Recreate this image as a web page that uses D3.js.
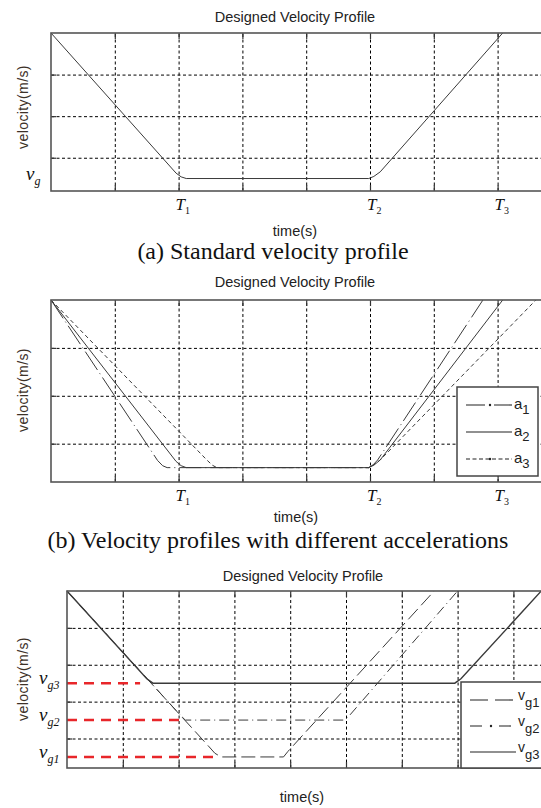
<!DOCTYPE html>
<html>
<head>
<meta charset="utf-8">
<script src="https://cdn.jsdelivr.net/npm/d3@7"></script>
<style>
  body { margin: 0; background: #fff; }
  svg { display: block; }
</style>
</head>
<body>
<script>
// panel (a) standard profile
const tA = [0, 1.96, 2.04, 2.12, 4.98, 5.06, 5.16, 7.08];
const vA = [4, 0.63, 0.54, 0.5, 0.5, 0.55, 0.66, 4];

// panel (b) different accelerations
const tB1 = [0, 1.67, 1.75, 1.82, 4.98, 5.05, 5.12, 6.77];
const vB1 = [4, 0.65, 0.54, 0.5, 0.5, 0.56, 0.66, 4];
const tB2 = [0, 1.96, 2.04, 2.12, 4.98, 5.06, 5.16, 7.08];
const vB2 = [4, 0.63, 0.54, 0.5, 0.5, 0.55, 0.66, 4];
const tB3 = [0, 2.45, 2.53, 2.6, 4.98, 5.06, 5.16, 7.6];
const vB3 = [4, 0.65, 0.55, 0.5, 0.5, 0.56, 0.66, 4];

// panel (c) different goal velocities
const tC1 = [0, 2.55, 2.65, 2.76, 3.88, 3.96, 6.58];
const vC1 = [5, 0.77, 0.6, 0.5, 0.5, 0.65, 5];
const tC2 = [0, 2.04, 2.12, 4.98, 5.06, 7.0];
const vC2 = [5, 1.62, 1.5, 1.5, 1.62, 5];
const tC3 = [0, 1.43, 1.54, 6.95, 7.06, 8.5];
const vC3 = [5, 2.62, 2.5, 2.5, 2.62, 5];

// red reference levels in (c)
const goalLevels = [0.5, 1.5, 2.5];
const goalEnds = [2.62, 2.03, 1.31];
const goalNames = ["g1", "g2", "g3"];

// time ticks
const timeTickVals = [2, 5, 7];
const timeTickNames = ["1", "2", "3"];

const legendB = ["1", "2", "3"];
const legendC = ["g1", "g2", "g3"];

const sans = "'Liberation Sans', Arial, sans-serif";
const serif = "'Liberation Serif', 'Times New Roman', serif";
const lineCol = "#3a3a3a";

const svg = d3.select("body").append("svg")
  .attr("width", 541).attr("height", 808);

function drawPanel(p) {
  const g = svg.append("g");
  const x = d3.scaleLinear().domain([0, p.xMax]).range([p.left, p.left + p.xMax * p.unitX]);
  const y = d3.scaleLinear().domain([0.2, p.yMax]).range([p.bottom, p.top]);
  const xt = d3.range(1, p.xMax);
  const yt = d3.range(1, p.yMax);
  const h = p.bottom - p.top;
  const w = p.xMax * p.unitX;

  // dotted grid
  g.append("g").attr("transform", `translate(0,${p.bottom})`)
    .call(d3.axisBottom(x).tickValues(xt).tickSize(-h).tickFormat(""))
    .call(a => a.select(".domain").remove())
    .selectAll("line").attr("stroke", "#000").attr("stroke-dasharray", "3,2.5");
  g.append("g").attr("transform", `translate(${p.left},0)`)
    .call(d3.axisLeft(y).tickValues(yt).tickSize(-w).tickFormat(""))
    .call(a => a.select(".domain").remove())
    .selectAll("line").attr("stroke", "#000").attr("stroke-dasharray", "3,2.5");

  // inner ticks
  g.append("g").attr("transform", `translate(0,${p.bottom})`)
    .call(d3.axisBottom(x).tickValues(xt).tickSize(-6).tickFormat(""))
    .call(a => a.select(".domain").remove())
    .selectAll("line").attr("stroke", "#333").attr("stroke-width", 1.2);
  g.append("g").attr("transform", `translate(0,${p.top})`)
    .call(d3.axisTop(x).tickValues(xt).tickSize(-6).tickFormat(""))
    .call(a => a.select(".domain").remove())
    .selectAll("line").attr("stroke", "#333").attr("stroke-width", 1.2);
  g.append("g").attr("transform", `translate(${p.left},0)`)
    .call(d3.axisLeft(y).tickValues(yt).tickSize(-5).tickFormat(""))
    .call(a => a.select(".domain").remove())
    .selectAll("line").attr("stroke", "#333").attr("stroke-width", 1.2);

  // red goal lines
  (p.refs || []).forEach(r => {
    g.append("line")
      .attr("x1", x(0)).attr("x2", x(r.end))
      .attr("y1", y(r.v)).attr("y2", y(r.v))
      .attr("stroke", "#e8262a").attr("stroke-width", 2.6)
      .attr("stroke-dasharray", "10,7");
  });

  // profile lines
  const line = d3.line().x(d => x(d[0])).y(d => y(d[1]));
  p.series.forEach(s => {
    g.append("path")
      .attr("d", line(d3.zip(s.t, s.v)))
      .attr("fill", "none")
      .attr("stroke", lineCol)
      .attr("stroke-width", s.width || 1)
      .attr("stroke-dasharray", s.dash);
  });

  // frame
  g.append("rect")
    .attr("x", p.left).attr("y", p.top).attr("width", w).attr("height", h)
    .attr("fill", "none").attr("stroke", "#555").attr("stroke-width", 1.6);

  // title
  g.append("text").attr("x", p.titleX).attr("y", p.titleY)
    .attr("text-anchor", "middle").attr("font-family", sans)
    .attr("font-size", 14.5).attr("fill", "#222").text("Designed Velocity Profile");

  // y label
  g.append("text")
    .attr("transform", `translate(28,${p.yLabelY}) rotate(-90)`)
    .attr("text-anchor", "middle").attr("font-family", sans)
    .attr("font-size", 14).attr("letter-spacing", 0.4)
    .attr("fill", "#3d3128").text("velocity(m/s)");

  // x label
  g.append("text").attr("x", p.xLabelX).attr("y", p.xLabelY)
    .attr("text-anchor", "middle").attr("font-family", sans)
    .attr("font-size", 14.5).attr("fill", "#222").text("time(s)");

  // T ticks
  if (p.tLabels) {
    timeTickVals.forEach((tv, i) => {
      const t = g.append("text").attr("x", x(tv) - 3).attr("y", p.bottom + 19)
        .attr("font-family", serif).attr("font-style", "italic")
        .attr("font-size", 17).attr("fill", "#111");
      t.append("tspan").text("T");
      t.append("tspan").attr("dy", 4).attr("font-size", 10).attr("font-style", "normal")
        .text(timeTickNames[i]);
    });
  }

  // v_g labels
  (p.vLabels || []).forEach(l => {
    const t = g.append("text").attr("x", l.x).attr("y", y(l.v) + 1)
      .attr("font-family", serif).attr("font-style", "italic")
      .attr("font-size", 19).attr("fill", "#111");
    t.append("tspan").text("v");
    t.append("tspan").attr("dy", 5).attr("font-size", 12).text(l.sub);
  });

  // legend
  if (p.legend) {
    const L = p.legend;
    g.append("rect").attr("x", L.x).attr("y", L.y).attr("width", L.w).attr("height", L.h)
      .attr("fill", "#fff").attr("stroke", "#444").attr("stroke-width", 1.5);
    L.items.forEach((it, i) => {
      const yy = L.rows[i];
      g.append("line").attr("x1", L.x + 9).attr("x2", L.x + 55)
        .attr("y1", yy).attr("y2", yy)
        .attr("stroke", "#222").attr("stroke-width", 1.1)
        .attr("stroke-dasharray", it.dash);
      if (it.dot) {
        g.append("circle").attr("cx", L.x + it.dot).attr("cy", yy).attr("r", 1.2).attr("fill", "#222");
      }
      const t = g.append("text").attr("x", L.x + 57).attr("y", yy + L.dyMain)
        .attr("font-family", sans).attr("font-size", L.fs).attr("fill", "#222");
      t.append("tspan").text(L.main);
      t.append("tspan").attr("dy", L.dySub).attr("font-size", 13).text(it.label);
    });
  }
}

// (a)
drawPanel({
  left: 51, top: 33, bottom: 191, unitX: 63.8, xMax: 8, yMax: 4,
  titleX: 295, titleY: 21.5, yLabelY: 107, xLabelX: 295, xLabelY: 236, tLabels: true,
  series: [{ t: tA, v: vA }],
  vLabels: [{ x: 26, v: 0.5, sub: "g" }]
});

// (b)
drawPanel({
  left: 51, top: 300, bottom: 482, unitX: 63.8, xMax: 8, yMax: 4,
  titleX: 295, titleY: 287, yLabelY: 390, xLabelX: 296, xLabelY: 522, tLabels: true,
  series: [
    { t: tB1, v: vB1, dash: "22,4,1,4" },
    { t: tB2, v: vB2 },
    { t: tB3, v: vB3, dash: "4,3" }
  ],
  legend: {
    x: 457, y: 387, w: 81, h: 89, rows: [405, 432, 459], main: "a", fs: 15,
    dyMain: 4, dySub: 5,
    items: [
      { label: legendB[0], dash: "19,4,1,4" , dot: 33 },
      { label: legendB[1] },
      { label: legendB[2], dash: "4,2.5", dot: 33 }
    ]
  }
});

// (c)
drawPanel({
  left: 67, top: 591, bottom: 768, unitX: 55.8, xMax: 9, yMax: 5,
  titleX: 303, titleY: 581, yLabelY: 679, xLabelX: 302, xLabelY: 802, tLabels: false,
  refs: goalLevels.map((v, i) => ({ v: v, end: goalEnds[i] })),
  series: [
    { t: tC1, v: vC1, dash: "14,5" },
    { t: tC2, v: vC2, dash: "10,4,1,4" },
    { t: tC3, v: vC3, width: 1.4 }
  ],
  vLabels: goalLevels.map((v, i) => ({ x: 39, v: v, sub: goalNames[i] })),
  legend: {
    x: 461, y: 682, w: 100, h: 86, rows: [700, 726, 752], main: "v", fs: 14,
    dyMain: 0, dySub: 7,
    items: [
      { label: legendC[0], dash: "18,7" },
      { label: legendC[1], dash: "12,8,1,8", dot: 30 },
      { label: legendC[2] }
    ]
  }
});

// captions
svg.append("text").attr("x", 273).attr("y", 259).attr("text-anchor", "middle")
  .attr("font-family", serif).attr("font-size", 24).attr("fill", "#111")
  .text("(a) Standard velocity profile");
svg.append("text").attr("x", 278).attr("y", 548).attr("text-anchor", "middle")
  .attr("font-family", serif).attr("font-size", 24).attr("fill", "#111")
  .text("(b) Velocity profiles with different accelerations");
</script>
</body>
</html>
